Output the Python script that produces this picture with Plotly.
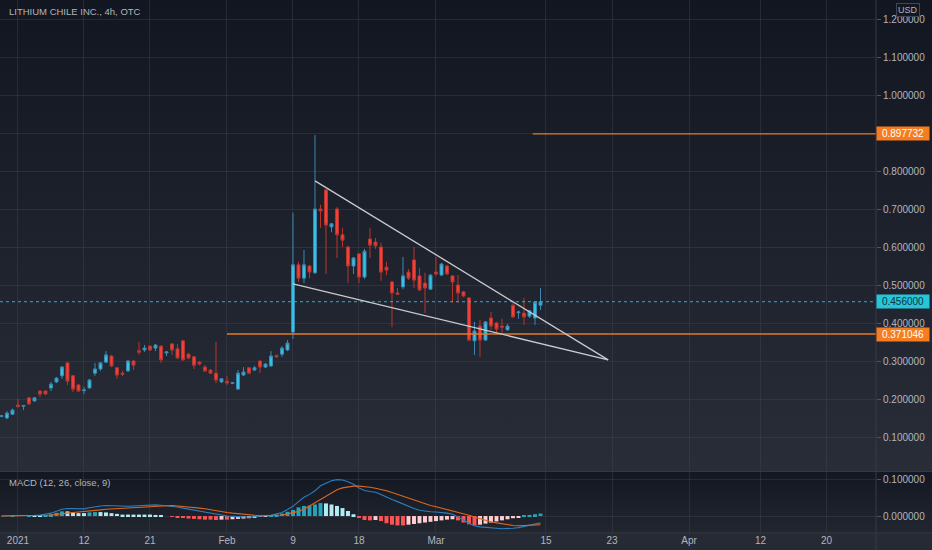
import base64
import plotly.graph_objects as go

# 4h bars, bar_index 0 is the first bar on screen (end of Dec 2020)
opens = [0.154, 0.150, 0.160, 0.184, 0.181, 0.203, 0.195, 0.221, 0.221, 0.229,
         0.245, 0.261, 0.295, 0.261, 0.237, 0.222, 0.229, 0.268, 0.279, 0.297,
         0.313, 0.282, 0.268, 0.274, 0.300, 0.327, 0.329, 0.339, 0.334, 0.339,
         0.321, 0.345, 0.332, 0.353, 0.318, 0.311, 0.297, 0.284, 0.276, 0.268,
         0.245, 0.247, 0.241, 0.226, 0.263, 0.282, 0.276, 0.300, 0.284, 0.287,
         0.315, 0.318, 0.329, 0.376, 0.553, 0.518, 0.550, 0.532, 0.700, 0.750,
         0.653, 0.700, 0.632, 0.600, 0.550, 0.582, 0.521, 0.621, 0.613, 0.600,
         0.547, 0.508, 0.479, 0.495, 0.534, 0.566, 0.524, 0.505, 0.489, 0.534,
         0.526, 0.550, 0.524, 0.500, 0.482, 0.466, 0.353, 0.392, 0.355, 0.413,
         0.400, 0.392, 0.382, 0.447, 0.427, 0.426, 0.418, 0.413, 0.447]
highs = [0.158, 0.168, 0.175, 0.200, 0.184, 0.205, 0.205, 0.222, 0.222, 0.245,
         0.258, 0.287, 0.297, 0.263, 0.239, 0.232, 0.253, 0.295, 0.297, 0.326,
         0.316, 0.284, 0.274, 0.303, 0.303, 0.350, 0.342, 0.342, 0.345, 0.342,
         0.326, 0.347, 0.345, 0.355, 0.321, 0.313, 0.300, 0.289, 0.279, 0.350,
         0.255, 0.261, 0.245, 0.276, 0.284, 0.284, 0.287, 0.303, 0.295, 0.326,
         0.316, 0.339, 0.355, 0.690, 0.561, 0.592, 0.553, 0.895, 0.711, 0.753,
         0.663, 0.705, 0.650, 0.603, 0.574, 0.584, 0.595, 0.650, 0.624, 0.611,
         0.561, 0.511, 0.492, 0.574, 0.542, 0.600, 0.545, 0.532, 0.529, 0.574,
         0.558, 0.553, 0.526, 0.526, 0.484, 0.468, 0.403, 0.408, 0.405, 0.429,
         0.403, 0.411, 0.397, 0.453, 0.432, 0.466, 0.434, 0.457, 0.492]
lows = [0.152, 0.147, 0.158, 0.178, 0.171, 0.185, 0.192, 0.205, 0.211, 0.221,
        0.242, 0.253, 0.237, 0.218, 0.219, 0.213, 0.227, 0.261, 0.274, 0.295,
        0.284, 0.253, 0.260, 0.271, 0.276, 0.316, 0.324, 0.326, 0.326, 0.295,
        0.313, 0.316, 0.305, 0.300, 0.305, 0.279, 0.289, 0.271, 0.266, 0.242,
        0.242, 0.237, 0.240, 0.224, 0.261, 0.266, 0.274, 0.268, 0.282, 0.284,
        0.308, 0.311, 0.326, 0.358, 0.508, 0.505, 0.518, 0.529, 0.650, 0.529,
        0.639, 0.571, 0.600, 0.505, 0.529, 0.505, 0.516, 0.571, 0.595, 0.511,
        0.526, 0.389, 0.474, 0.489, 0.513, 0.492, 0.484, 0.426, 0.487, 0.524,
        0.524, 0.526, 0.453, 0.453, 0.468, 0.353, 0.316, 0.311, 0.353, 0.382,
        0.374, 0.371, 0.379, 0.413, 0.411, 0.395, 0.413, 0.395, 0.434]
closes = [0.156, 0.163, 0.171, 0.180, 0.183, 0.187, 0.203, 0.213, 0.213, 0.239,
          0.255, 0.284, 0.247, 0.226, 0.221, 0.224, 0.250, 0.279, 0.295, 0.316,
          0.287, 0.263, 0.265, 0.300, 0.289, 0.323, 0.334, 0.329, 0.342, 0.303,
          0.324, 0.329, 0.308, 0.303, 0.308, 0.289, 0.292, 0.274, 0.268, 0.250,
          0.253, 0.242, 0.243, 0.268, 0.271, 0.268, 0.282, 0.284, 0.292, 0.313,
          0.311, 0.334, 0.347, 0.553, 0.518, 0.553, 0.534, 0.700, 0.695, 0.658,
          0.661, 0.632, 0.618, 0.550, 0.571, 0.521, 0.589, 0.605, 0.603, 0.534,
          0.539, 0.479, 0.476, 0.524, 0.518, 0.513, 0.487, 0.492, 0.526, 0.529,
          0.555, 0.529, 0.508, 0.479, 0.471, 0.355, 0.379, 0.355, 0.403, 0.392,
          0.384, 0.389, 0.392, 0.416, 0.429, 0.416, 0.432, 0.455, 0.456]
bar_index = list(range(len(closes)))

# MACD (12, 26, close, 9)
macd_line = [0.000, 0.000, 0.001, 0.001, 0.001, 0.001, 0.002,
             0.003, 0.005, 0.008, 0.013, 0.019,
             0.021, 0.020, 0.019, 0.020, 0.023, 0.026,
             0.028, 0.029, 0.028, 0.027, 0.026,
             0.027, 0.028, 0.029, 0.030, 0.031, 0.031, 0.030, 0.029,
             0.027, 0.025, 0.022, 0.019, 0.016,
             0.013, 0.010, 0.007, 0.004, 0.002, 0.000,
             -0.001, -0.002, -0.003, -0.003, -0.002, -0.001, 0.000,
             0.002, 0.006, 0.010, 0.018, 0.027,
             0.040, 0.052, 0.060, 0.070, 0.084, 0.092,
             0.098, 0.101, 0.100, 0.095, 0.088,
             0.078, 0.071, 0.068, 0.066, 0.060, 0.052,
             0.046, 0.040, 0.033, 0.026, 0.021, 0.016,
             0.013, 0.012, 0.011, 0.010, 0.008, 0.005, -0.002,
             -0.011, -0.020, -0.027, -0.030, -0.032, -0.033,
             -0.034, -0.035, -0.035, -0.034, -0.032, -0.029, -0.026, -0.022, -0.019]
signal_line = [0.000, 0.000, 0.000, 0.001, 0.001, 0.001, 0.001, 0.002, 0.002, 0.003, 0.004,
               0.006, 0.008, 0.010, 0.011, 0.012, 0.013, 0.015,
               0.017, 0.019, 0.020, 0.021, 0.022, 0.023, 0.024, 0.025,
               0.026, 0.027, 0.028, 0.028, 0.029, 0.029,
               0.028, 0.027, 0.026, 0.024, 0.022, 0.020,
               0.017, 0.015, 0.012, 0.010, 0.008, 0.006,
               0.004, 0.003, 0.002, 0.001, 0.001, 0.001, 0.002,
               0.003, 0.006, 0.009, 0.013, 0.019,
               0.028, 0.038, 0.048, 0.057, 0.066, 0.073,
               0.078, 0.081, 0.083, 0.083, 0.082, 0.080,
               0.077, 0.074, 0.070, 0.065, 0.060, 0.054,
               0.048, 0.043, 0.038, 0.033, 0.029, 0.026,
               0.022, 0.019, 0.016, 0.012, 0.007, 0.002,
               -0.003, -0.008, -0.012, -0.016, -0.019, -0.022,
               -0.024, -0.026, -0.027, -0.027, -0.026, -0.025, -0.024]
macd_hist = [0.000, 0.000, 0.001, 0.000, 0.000, 0.001, 0.001,
             0.001, 0.003, 0.005, 0.009, 0.013,
             0.013, 0.010, 0.008, 0.008, 0.010, 0.011,
             0.011, 0.010, 0.008, 0.006, 0.004,
             0.004, 0.004, 0.004, 0.004, 0.004, 0.003, 0.002, 0.000,
             -0.002, -0.003, -0.005, -0.007, -0.008,
             -0.009, -0.010, -0.010, -0.011, -0.010, -0.010,
             -0.009, -0.008, -0.007, -0.006, -0.004, -0.002, -0.001,
             0.001, 0.004, 0.007, 0.012, 0.017,
             0.024, 0.028, 0.029, 0.032, 0.036, 0.035,
             0.032, 0.028, 0.022, 0.014, 0.005,
             -0.005, -0.011, -0.012, -0.011, -0.014,
             -0.020, -0.024, -0.026, -0.026, -0.024, -0.022, -0.020,
             -0.018, -0.016, -0.014, -0.012, -0.010, -0.009,
             -0.012, -0.018, -0.023, -0.026,
             -0.024, -0.021, -0.018, -0.015, -0.012, -0.009,
             -0.006, -0.003, 0.001, 0.003, 0.005, 0.007]

date_ticks = [3, 15, 27, 41, 53, 65, 79, 99, 111, 125, 138, 150]
date_labels = ["2021", "12", "21", "Feb", "9", "18", "Mar", "15", "23", "Apr", "12", "20"]
price_ticks = [0.1, 0.2, 0.3, 0.4, 0.5, 0.6, 0.7, 0.8, 0.9, 1.0, 1.1, 1.2]
macd_ticks = [0.0, 0.1]

# drawings on the chart
level_hi, level_hi_from = 0.897732, 96.6
level_lo, level_lo_from = 0.371046, 41
last_price = 0.456
wedge_top_x, wedge_top_y = [57, 110.3], [0.774, 0.303]
wedge_bot_x, wedge_bot_y = [53, 110.3], [0.503, 0.303]

FONT = "Liberation Sans"
TXT = "#b2b5be"
GRID = "rgba(70,74,86,0.38)"
x_range = [-0.27, 159.0]

# pane gradient background (TradingView dark theme)
bg_svg = """<svg xmlns="http://www.w3.org/2000/svg" width="932" height="550" viewBox="0 0 932 550" preserveAspectRatio="none">
<defs>
<linearGradient id="a" x1="0" y1="0" x2="0" y2="1"><stop offset="0" stop-color="#121621"/><stop offset="1" stop-color="#292d38"/></linearGradient>
<linearGradient id="b" x1="0" y1="0" x2="0" y2="1"><stop offset="0" stop-color="#131722"/><stop offset="1" stop-color="#22262f"/></linearGradient>
</defs>
<rect x="0" y="0" width="932" height="471" fill="url(#a)"/>
<rect x="0" y="471" width="932" height="63" fill="url(#b)"/>
<rect x="0" y="534" width="932" height="16" fill="#262a35"/>
</svg>"""
bg_src = "data:image/svg+xml;base64," + base64.b64encode(bg_svg.encode()).decode()

fig = go.Figure()

fig.add_trace(go.Candlestick(
    x=bar_index, open=opens, high=highs, low=lows, close=closes,
    increasing=dict(line=dict(color="#3d88b2", width=1), fillcolor="#36c3e3"),
    decreasing=dict(line=dict(color="#b8362e", width=1), fillcolor="#f2413b"),
    xaxis="x", yaxis="y", hoverinfo="skip"))

# horizontal levels
fig.add_trace(go.Scatter(x=[level_hi_from, x_range[1]], y=[level_hi, level_hi], mode="lines",
                         line=dict(color="#e07b2a", width=1.4), xaxis="x", yaxis="y"))
fig.add_trace(go.Scatter(x=[level_lo_from, x_range[1]], y=[level_lo, level_lo], mode="lines",
                         line=dict(color="#e07b2a", width=1.4), xaxis="x", yaxis="y"))
fig.add_trace(go.Scatter(x=x_range, y=[last_price, last_price], mode="lines",
                         line=dict(color="#26b3cc", width=1, dash="dot"), xaxis="x", yaxis="y"))

# falling wedge
for wx, wy in [(wedge_top_x, wedge_top_y), (wedge_bot_x, wedge_bot_y)]:
    fig.add_trace(go.Scatter(x=wx, y=wy, mode="lines",
                             line=dict(color="#c9cbd1", width=1.3), xaxis="x", yaxis="y"))

# MACD histogram, TradingView colouring
hist_colors = []
prev = 0
for h in macd_hist:
    if h >= 0:
        hist_colors.append("#26a3ba" if h > prev else "#b2ebf2")
    else:
        hist_colors.append("#ffcdd2" if h > prev else "#ff5252")
    prev = h

fig.add_trace(go.Bar(x=bar_index, y=macd_hist, marker=dict(color=hist_colors, line=dict(width=0)),
                     width=0.72, xaxis="x2", yaxis="y2"))
fig.add_trace(go.Scatter(x=bar_index, y=macd_line, mode="lines",
                         line=dict(color="#2a7fc0", width=1.1), xaxis="x2", yaxis="y2"))
fig.add_trace(go.Scatter(x=bar_index, y=signal_line, mode="lines",
                         line=dict(color="#e0661e", width=1.1), xaxis="x2", yaxis="y2"))

price_text = ["" if abs(v - 0.9) < 1e-9 else f"{v:.6f}" for v in price_ticks]


def tag(val, bg, fg):
    return dict(xref="paper", yref="y", x=1.0, y=val, xanchor="left", yanchor="middle",
                text=f"{val:.6f}", showarrow=False, bgcolor=bg, width=50, borderpad=1,
                font=dict(family=FONT, size=10, color=fg))


fig.update_layout(
    width=932, height=550,
    margin=dict(l=0, r=56, t=0, b=17),
    paper_bgcolor="#1c202b", plot_bgcolor="rgba(0,0,0,0)",
    showlegend=False, hovermode=False, boxgap=0.22,
    images=[dict(source=bg_src, xref="paper", yref="paper", x=0, y=1,
                 sizex=932 / 876, sizey=550 / 533, xanchor="left", yanchor="top",
                 sizing="stretch", layer="below")],
    xaxis=dict(domain=[0, 1], range=x_range, anchor="y", rangeslider=dict(visible=False),
               tickvals=date_ticks, ticktext=date_labels, showticklabels=False,
               showgrid=True, gridcolor=GRID, zeroline=False, ticks=""),
    yaxis=dict(domain=[0.1163, 1], range=[0.0105, 1.25], side="right",
               tickvals=price_ticks, ticktext=price_text, showgrid=True, gridcolor=GRID,
               zeroline=False, ticks="outside", ticklen=4, tickcolor="#50535e",
               tickfont=dict(family=FONT, size=10, color=TXT)),
    xaxis2=dict(domain=[0, 1], matches="x", anchor="y2", tickvals=date_ticks, ticktext=date_labels,
                showgrid=True, gridcolor=GRID, zeroline=False, ticks="",
                tickfont=dict(family=FONT, size=10, color=TXT)),
    yaxis2=dict(domain=[0, 0.1144], range=[-0.047, 0.122], side="right",
                tickvals=macd_ticks, ticktext=[f"{v:.6f}" for v in macd_ticks],
                showgrid=True, gridcolor=GRID, zeroline=False, ticks="outside", ticklen=4,
                tickcolor="#50535e", tickfont=dict(family=FONT, size=10, color=TXT)),
    shapes=[
        dict(type="line", xref="paper", yref="paper", x0=0, x1=932 / 876, y0=0.1154, y1=0.1154,
             line=dict(color="#363a45", width=1)),
        dict(type="line", xref="paper", yref="paper", x0=0, x1=932 / 876, y0=0, y1=0,
             line=dict(color="#363a45", width=1)),
        dict(type="line", xref="paper", yref="paper", x0=1, x1=1, y0=-17 / 533, y1=1,
             line=dict(color="#363a45", width=1)),
    ],
    annotations=[
        dict(xref="paper", yref="paper", x=7 / 876, y=1 - 11 / 533, xanchor="left", yanchor="middle",
             text="LITHIUM CHILE INC., 4h, OTC", showarrow=False,
             font=dict(family=FONT, size=9.5, color=TXT)),
        dict(xref="paper", yref="paper", x=7 / 876, y=(533 - 482) / 533, xanchor="left", yanchor="middle",
             text="MACD (12, 26, close, 9)", showarrow=False,
             font=dict(family=FONT, size=9.5, color=TXT)),
        dict(xref="paper", yref="paper", x=908 / 876, y=1 - 10 / 533, xanchor="center", yanchor="middle",
             text="USD", showarrow=False, bgcolor="#131722", bordercolor="#434651", borderwidth=1,
             borderpad=1, font=dict(family=FONT, size=9, color=TXT)),
        tag(level_hi, "#f57c1f", "#ffffff"),
        tag(last_price, "#26c6da", "#12303d"),
        tag(level_lo, "#f57c1f", "#ffffff"),
    ],
)

# the page is photographed at exactly the figure size, so drop the default body margin
fig.write_html("out.html", config={"displayModeBar": False},
               post_script="document.body.style.margin='0';")
